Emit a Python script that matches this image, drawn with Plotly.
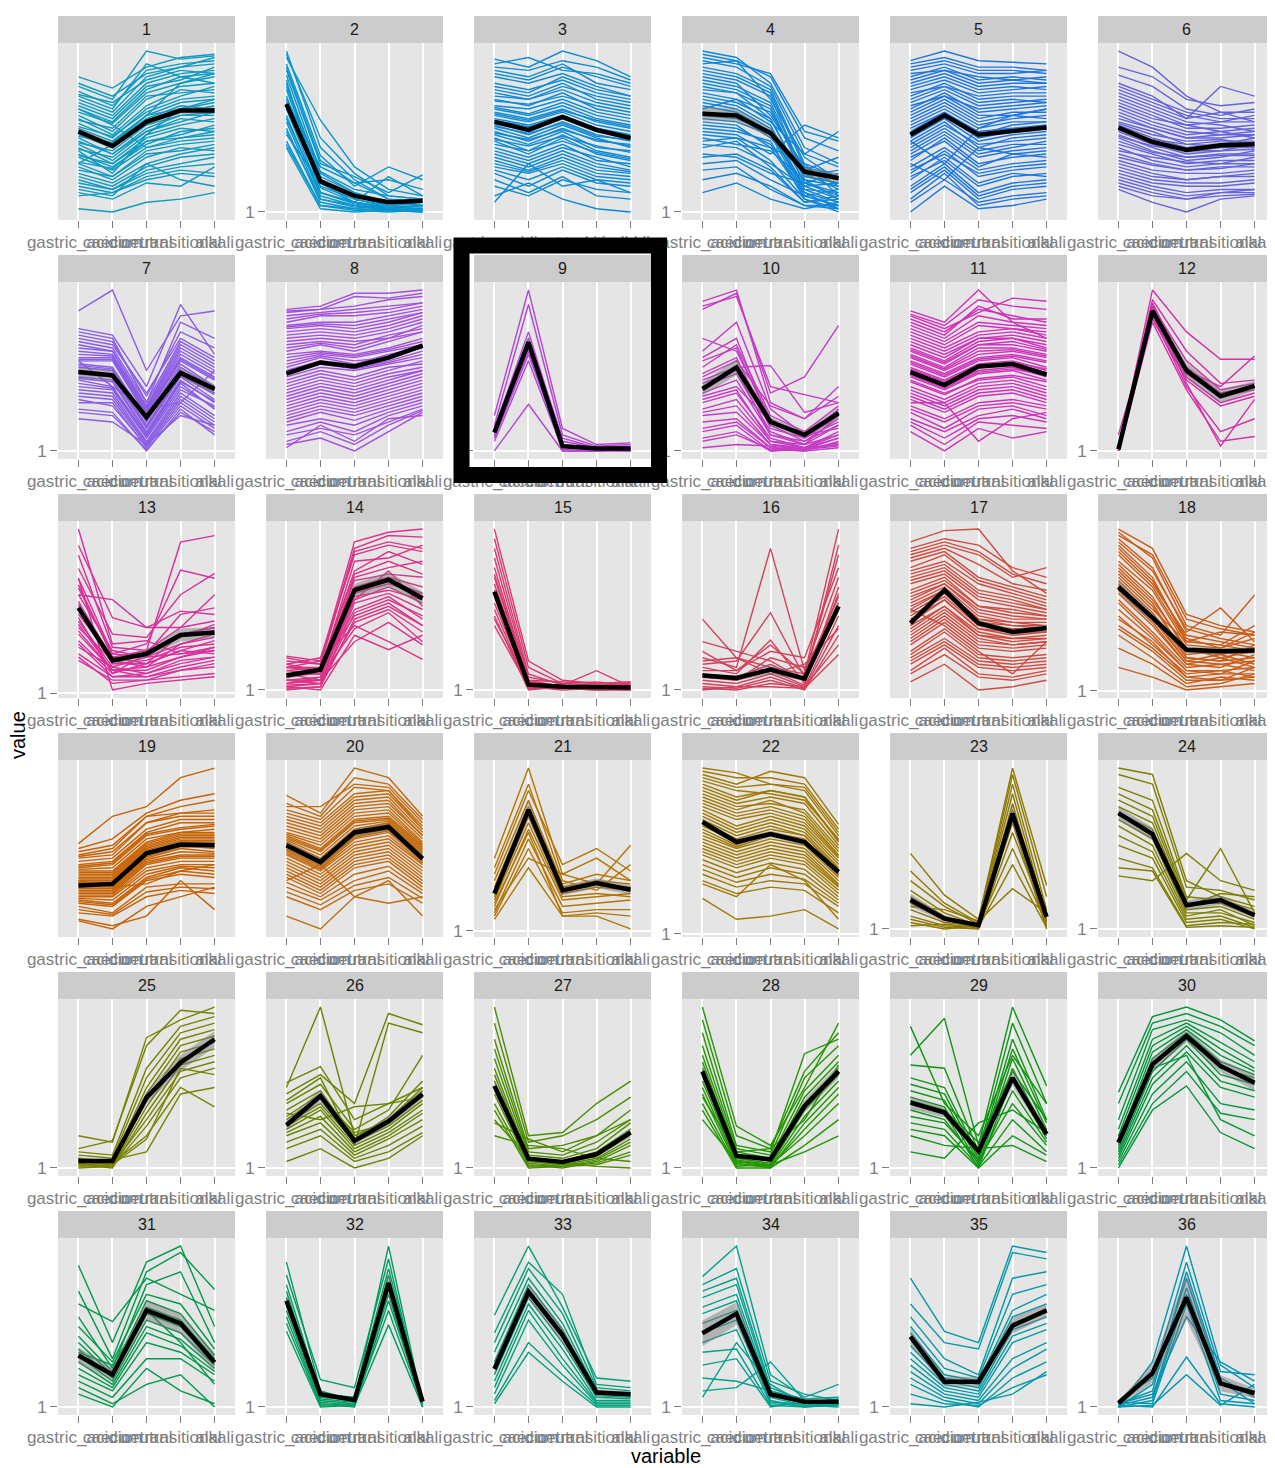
import plotly.graph_objects as go

STAGES = ["gastric_acidic", "caecum", "neutral", "transitional", "alkali"]
CLUSTERS = [str(i) for i in range(1, 37)]
COLORS = ["#0B9AC2", "#0795CF", "#0A8AD5", "#0F86D8", "#1D76E0", "#6363E0",
          "#8B5CE6", "#A54FDE", "#B544D4", "#C63BC6", "#D12FBC", "#D32FA8",
          "#D9309E", "#DB3388", "#D83A6E", "#D2425C", "#D04B3F", "#CB5D16",
          "#C86100", "#C36B0E", "#B47400", "#A27800", "#8E7800", "#7F7E00",
          "#788200", "#688400", "#4C8C00", "#229700", "#0E9512", "#00963A",
          "#00994A", "#009C60", "#00A07A", "#00A08F", "#009AA6", "#0096B4"]
# lowest observed value of each cluster (the "1" tick only shows where it is in range)
FLOOR = [20, 1, 20, 1, 20, 20, 1, 20, 1, 1, 20, 1,
         1, 1, 1, 1, 20, 1.4, 20, 20, 2.2, 4, 1, 1,
         1, 1, 1, 1, 1, 1, 1, 1, 1, 1, 1, 1]

C01 = [[84,77,90,96,98],[78,70,100,95,97],[75,66,88,92,94],[70,62,84,90,96],[68,60,80,86,88],
       [66,58,78,82,90],[62,55,74,80,84],[60,50,70,78,80],[58,48,66,76,74],[55,46,64,72,78],
       [52,44,60,68,70],[50,42,58,66,64],[48,40,56,62,66],[46,36,52,60,62],[44,36,50,58,56],
       [42,32,48,54,58],[40,30,46,52,50],[36,28,42,50,52],[34,26,40,44,46],[30,22,38,42,44],
       [28,20,34,40,38],[24,18,30,36,40],[20,14,26,30,34],[16,12,22,26,24],[14,10,30,20,16],
       [12,8,18,16,28],[2,0,6,8,12],[30,42,60,80,86],[64,54,40,46,50],
       [80,72,86,90,92],[73,68,82,88,86],[64,56,76,84,86],[57,52,72,74,76],[53,47,62,70,72],
       [47,43,60,64,68],[43,38,54,60,60],[39,34,50,56,62],[35,30,44,48,54],[31,27,44,46,48],
       [26,22,36,38,42],[22,16,28,34,36],[18,14,24,28,30],[10,12,20,24,22],[72,64,92,84,80],
       [38,24,48,64,70]]
M01 = [50,41,56,63,63]
S01 = [2,2,2,2,2]

C02 = [[100,40,20,8,6],[96,57,28,14,10],[92,35,16,28,20],[88,30,22,12,23],[85,25,14,10,8],
       [80,22,12,6,4],[76,20,10,4,6],[72,18,8,3,2],[68,15,6,2,4],[64,12,5,2,1],
       [60,10,4,1,2],[56,8,3,2,1],[52,6,2,1,0],[48,18,6,3,4],[44,4,1,0,1],
       [40,2,0,1,0],[70,28,18,20,14],[82,12,6,22,10],
       [98,46,24,10,8],[90,32,18,8,6],[78,24,12,6,4],[66,16,8,4,3],[58,12,6,3,2],
       [50,8,4,2,1],[42,4,2,1,1]]
M02 = [67,19,10,6,7]
S02 = [3,2,1.5,1,1]

C03 = [[95,90,100,94,84],[92,96,88,86,80],[88,84,92,80,76],[84,80,86,78,72],[80,76,82,74,70],
       [76,72,80,70,66],[72,70,76,68,64],[70,66,74,64,60],[66,64,70,62,58],[64,60,66,58,54],
       [62,58,64,56,52],[60,56,62,54,50],[58,54,60,52,48],[56,50,58,50,46],[54,48,56,48,44],
       [52,46,54,46,40],[50,44,52,44,42],[48,42,50,40,38],[46,38,48,38,34],[44,36,46,36,32],
       [40,34,42,32,30],[36,30,38,30,26],[32,26,34,26,24],[28,24,30,22,20],[24,16,26,18,16],
       [20,12,22,10,8],[10,18,8,2,0],[6,30,16,20,12],
       [90,88,94,90,82],[86,82,90,84,78],[78,74,84,76,72],[74,70,78,72,68],[69,67,72,66,62],
       [65,61,68,60,56],[61,57,63,57,53],[57,53,59,51,47],[53,49,55,47,45],[49,45,51,45,41],
       [45,41,47,41,37],[42,38,44,37,33],[38,32,40,34,28],[34,28,36,28,25],[30,25,32,24,22],
       [26,20,28,20,18],[16,10,20,14,12]]
M03 = [56,51,59,51,46]
S03 = [1.5,1.5,1.5,1.5,1.5]

C04 = [[100,96,80,40,30],[96,92,86,50,44],[92,94,70,34,20],[90,86,76,30,10],[86,82,72,22,26],
       [84,80,60,28,16],[80,76,66,20,8],[76,74,58,18,12],[74,70,62,26,34],[70,66,54,14,6],
       [66,62,50,12,2],[62,60,46,24,20],[58,56,48,10,4],[56,54,40,30,22],[52,50,44,8,0],
       [50,48,36,54,46],[46,42,38,20,16],[42,40,30,16,18],[40,44,28,6,10],[36,34,24,18,24],
       [30,32,20,10,14],[26,28,14,4,2],[12,18,8,2,6],[64,70,56,36,50],
       [98,94,84,46,38],[94,90,78,36,28],[88,84,74,28,22],[82,78,68,24,14],[78,74,64,22,18],
       [72,68,58,18,10],[68,64,52,16,8],[60,58,50,14,12],[54,52,42,12,6],[48,46,40,10,4],
       [44,46,32,8,2],[34,36,26,6,8],[20,24,16,4,4]]
M04 = [61,60,49,25,21]
S04 = [4,4,3,3,3]

C05 = [[94,100,94,93,92],[92,96,90,90,88],[88,92,86,86,88],[84,90,82,84,82],[80,86,78,80,80],
       [76,82,74,76,78],[72,80,70,72,72],[68,76,66,68,70],[64,74,62,64,66],[60,70,58,62,62],
       [56,66,54,58,60],[54,64,52,56,56],[50,62,50,52,54],[48,60,46,50,52],[46,58,44,48,50],
       [42,54,42,44,46],[40,52,38,42,42],[36,48,34,38,40],[32,46,30,34,36],[28,40,26,30,32],
       [24,38,22,26,28],[20,34,18,24,22],[16,30,12,18,20],[12,26,8,14,16],[8,24,4,8,10],
       [0,16,2,4,8],[30,20,40,36,38],[44,30,52,60,64],
       [90,94,88,88,86],[86,88,84,82,84],[82,88,80,82,80],[78,84,76,78,76],[74,78,72,74,74],
       [70,78,68,70,68],[66,72,64,66,68],[62,72,60,60,64],[58,68,56,60,58],[52,62,48,54,56],
       [44,56,40,46,48],[38,50,36,40,44],[34,44,28,36,34],[26,36,24,28,30],[22,32,16,22,24],
       [14,28,10,16,18],[6,20,6,10,12]]
M05 = [48,60,48,50.5,52.5]
S05 = [1.5,1.5,1.5,1.5,1.5]

C06 = [[100,90,72,62,56],[85,78,64,60,64],[80,72,58,78,72],[76,68,60,56,60],[72,64,56,54,50],
       [68,60,52,52,54],[66,58,54,50,46],[62,54,48,50,52],[58,52,46,46,48],[56,50,42,44,44],
       [54,46,40,42,46],[52,44,38,40,40],[50,42,36,38,42],[48,40,34,36,36],[46,38,32,34,38],
       [42,36,30,32,32],[40,32,28,30,34],[36,30,26,28,28],[32,26,24,24,26],[30,24,20,22,22],
       [26,20,18,18,20],[22,16,12,14,14],[18,12,8,12,12],[14,6,0,8,10],
       [90,84,70,66,68],[78,70,62,58,58],[74,66,58,62,62],[70,62,54,56,56],[64,56,50,48,50],
       [60,52,46,48,48],[55,48,44,45,42],[51,45,42,41,43],[47,41,38,38,39],[44,37,34,35,35],
       [38,34,31,30,30],[34,29,26,27,30],[28,22,20,22,24],[24,18,16,16,18],[20,14,10,12,14],
       [16,10,8,10,11]]
M06 = [52.5,43.5,38.5,41.5,42]
S06 = [2,2,2,2,2]

C07 = [[87,100,50,84,87],[76,72,40,91,60],[74,70,30,80,70],[70,66,36,70,58],[66,62,28,66,54],
       [62,60,26,62,50],[58,58,24,58,46],[56,56,22,56,44],[54,52,20,54,40],[52,50,18,50,38],
       [50,48,16,48,36],[48,46,14,46,32],[46,44,12,44,30],[44,40,10,42,26],[40,38,8,38,28],
       [38,36,6,36,22],[34,32,4,32,18],[30,30,2,28,14],[26,24,0,26,10],[20,18,4,22,16],
       [56,40,26,30,50],
       [72,68,34,74,64],[68,64,30,68,56],[64,62,27,64,52],[60,59,25,60,48],[57,57,23,57,45],
       [53,51,19,52,39],[49,47,15,47,35],[45,43,11,43,31],[42,39,9,40,27],[36,34,5,34,20],
       [32,28,3,30,16],[24,22,1,24,12]]
M07 = [49,47,21,48.5,38.5]
S07 = [3,3,3,3,3]

C08 = [[88,90,98,98,100],[86,88,90,94,96],[84,86,88,90,92],[80,84,84,86,90],[78,80,80,84,88],
       [76,78,76,80,86],[72,74,72,76,82],[70,72,70,74,80],[66,68,66,72,76],[62,66,62,68,74],
       [60,62,60,64,70],[56,60,58,62,66],[52,58,54,60,64],[50,56,52,56,62],[46,52,50,54,58],
       [44,50,46,52,54],[40,46,42,48,52],[36,42,38,44,50],[32,38,34,40,46],[28,34,30,36,42],
       [24,30,26,32,38],[20,26,22,28,34],[16,20,16,24,30],[10,14,10,18,26],[4,8,0,12,24],
       [2,16,6,20,22],
       [87,88,96,95,98],[82,85,86,88,92],[77,79,78,82,86],[74,76,74,78,84],[68,70,68,70,78],
       [64,67,64,70,74],[58,61,59,63,68],[54,59,56,58,66],[48,54,51,55,60],[42,48,44,50,56],
       [38,44,40,46,50],[34,40,36,42,48],[30,36,32,38,44],[26,32,28,34,40],[22,28,24,30,36],
       [18,24,19,26,32],[12,18,12,22,28],[6,12,4,16,25]]
M08 = [48,55,52.5,58,65.5]
S08 = [1.5,1.5,1.5,1.5,1.5]

C09 = [[22,100,14,4,5],[16,91,10,3,4],[14,74,6,2,2],[12,66,4,1,1],[10,62,2,1,0],
       [8,60,3,2,1],[6,56,1,0,1],[9,64,0,0,0],[0,29,0,0,2],[11,70,8,2,3]]
M09 = [11.5,67.5,3,1.5,1.5]
S09 = [2,4,1,0.5,0.5]

C10 = [[93,100,30,20,40],[90,96,40,35,30],[88,98,36,46,78],[70,62,20,8,26],[62,80,26,10,24],
       [58,70,16,6,20],[52,66,22,12,28],[48,58,14,8,18],[44,52,53,24,30],[40,48,12,4,22],
       [36,44,10,6,16],[34,40,18,10,14],[30,36,8,2,12],[26,32,6,4,10],[22,24,4,1,8],
       [18,20,2,0,6],[12,16,0,2,4],[6,10,1,0,2],[2,4,3,1,5],[46,56,28,20,34],
       [56,64,18,8,22],[42,50,10,4,16],[32,38,6,2,10],[24,28,4,2,8],[14,18,2,1,4],
       [8,12,0,1,3]]
M10 = [38.5,52,18,10,23.5]
S10 = [4,5,3,2,3]

C11 = [[87,80,100,80,70],[84,76,86,95,93],[80,72,90,82,82],[76,68,80,78,76],[72,64,74,76,72],
       [68,60,70,72,68],[64,56,68,70,64],[62,54,66,66,62],[60,52,64,64,60],[58,50,60,62,58],
       [56,48,58,60,56],[54,46,56,58,52],[52,44,54,56,50],[50,42,52,54,48],[48,40,50,52,46],
       [46,38,48,50,44],[44,36,44,46,40],[40,32,42,44,38],[36,28,38,40,34],[32,24,34,36,30],
       [28,20,30,32,28],[24,14,26,28,22],[18,8,20,22,18],[12,0,14,8,12],[30,30,6,20,24],
       [85,78,94,90,88],[82,74,88,84,80],[78,70,84,80,78],[74,66,78,76,74],[70,62,72,74,70],
       [66,58,70,70,66],[63,55,66,68,63],[59,51,62,63,59],[55,47,57,59,55],[51,43,53,55,51],
       [47,39,49,51,47],[43,35,45,47,43],[38,30,40,42,36],[34,26,36,38,32],[26,18,28,30,26],
       [20,12,22,26,20],[16,4,18,16,14]]
M11 = [49,41,52.5,54,47.5]
S11 = [1.5,1.5,1.5,1.5,1.5]

C12 = [[0,100,74,57,57],[1,94,62,42,44],[2,90,56,38,42],[0,88,52,36,40],[1,86,48,34,38],
       [0,84,46,30,36],[10,82,44,28,34],[0,90,42,3,32],[1,84,40,12,20],[0,80,38,6,9],
       [0,92,50,40,59]]
M12 = [1,87,50,34,40.5]
S12 = [1,3,5,4,3]

C13 = [[100,30,32,24,26],[90,46,40,40,44],[84,28,26,92,96],[76,36,34,60,73],[70,24,30,75,70],
       [66,22,26,40,60],[60,26,22,30,36],[56,20,24,34,42],[52,18,20,28,30],[48,22,18,36,40],
       [44,16,22,24,28],[40,20,16,30,34],[36,14,14,22,26],[32,12,18,26,24],[28,16,12,18,22],
       [24,10,10,14,18],[20,8,8,10,12],[60,57,40,50,48],[70,2,6,8,10],[46,12,24,48,52],
       [64,24,22,36,40],[54,18,18,26,32],[42,14,16,22,28],[30,10,12,20,22],[22,6,8,14,16],
       [38,14,10,16,20]]
M13 = [52,20,24,35.5,37]
S13 = [4,2,2,4,3]

C14 = [[21,18,92,98,100],[18,16,88,96,95],[16,20,84,90,86],[14,12,80,82,90],[12,14,74,86,78],
       [10,10,70,76,80],[8,12,68,72,70],[6,8,64,70,64],[4,6,60,66,60],[2,4,58,62,56],
       [0,2,54,60,50],[12,10,50,58,44],[8,14,46,54,40],[6,4,42,50,36],[4,8,38,48,30],
       [10,6,30,42,28],[2,0,34,25,34],[14,18,40,30,19],[16,12,56,74,52],
       [20,16,86,92,88],[14,14,72,80,72],[9,10,62,68,60],[6,6,56,64,54],[3,4,48,56,46],
       [1,2,44,52,40]]
M14 = [9,12.6,62,68.5,57]
S14 = [2,2,4,5,4]

C15 = [[100,18,6,4,5],[94,14,4,3,4],[88,10,3,2,2],[82,8,4,5,3],[76,6,2,1,1],
       [70,5,2,3,2],[66,4,1,2,4],[62,3,2,1,0],[58,2,1,0,1],[54,2,0,1,2],
       [50,1,1,0,0],[46,0,2,1,1],[44,4,3,12,2],[40,2,1,1,3],[72,6,5,4,5]]
M15 = [61,3.3,2,2,1.5]
S15 = [4,0.5,0.5,0.5,0.5]

C16 = [[44,20,14,10,100],[30,24,18,6,90],[20,14,88,12,70],[16,18,48,8,84],[14,10,31,4,60],
       [12,12,24,20,76],[10,8,16,6,54],[8,6,12,3,64],[6,4,10,2,46],[4,2,8,1,40],
       [2,1,6,0,34],[1,0,4,2,28],[0,2,2,1,22],[10,6,20,14,50],[24,12,28,10,58],
       [18,20,10,16,38]]
M16 = [9,7.5,12.6,7,52]
S16 = [1.5,1.5,3,1.5,4]

C17 = [[92,99,100,74,60],[88,94,90,76,70],[84,90,84,70,76],[80,86,70,64,58],[74,80,66,60,54],
       [70,76,60,56,50],[66,72,56,52,48],[62,70,52,48,46],[58,66,50,46,44],[54,64,46,42,42],
       [50,62,44,40,40],[46,58,40,38,38],[42,56,38,34,36],[40,52,36,32,34],[36,50,34,30,32],
       [32,46,30,28,30],[28,42,26,24,26],[24,38,22,20,22],[20,32,18,16,18],[16,28,14,12,14],
       [10,22,8,6,10],[5,16,0,2,6],[50,40,24,10,30],
       [86,92,86,72,66],[82,88,78,66,62],[76,84,68,62,56],[72,78,62,58,52],[68,74,58,54,50],
       [60,68,52,50,46],[56,66,48,44,44],[52,62,44,42,40],[48,60,42,40,38],[44,56,38,36,36],
       [38,52,34,32,32],[34,48,32,28,30],[30,44,28,26,28],[22,36,20,18,20],[18,30,16,14,16],
       [12,26,10,8,12]]
M17 = [41.5,62,41.5,36,38.5]
S17 = [2,2.5,2,2,2]

C18 = [[100,88,47,40,36],[98,82,40,34,59],[94,76,36,51,30],[90,70,30,28,40],[86,66,34,30,26],
       [80,62,28,26,32],[76,56,26,20,24],[72,52,22,24,20],[68,48,20,18,28],[64,44,18,22,16],
       [60,40,16,14,22],[56,36,14,16,12],[50,32,12,10,18],[46,28,10,12,8],[40,26,8,6,14],
       [34,20,4,8,6],[26,16,2,4,10],[14,8,0,2,4],[70,50,30,36,34],
       [96,84,44,38,34],[92,74,38,32,28],[88,68,32,26,36],[84,64,30,28,24],[78,58,24,22,26],
       [74,54,20,18,20],[66,46,18,16,18],[62,42,16,20,14],[54,34,12,12,14],[44,30,8,10,10],
       [38,24,6,6,8]]
M18 = [64,45,25,24,24.5]
S18 = [4,3,2,2,2]

C19 = [[53,70,76,94,100],[50,56,72,80,84],[46,50,70,72,74],[44,46,66,70,70],[40,42,60,66,66],
       [38,40,58,62,64],[36,36,54,60,60],[34,34,52,58,58],[32,32,50,56,56],[30,30,48,54,54],
       [28,28,46,52,50],[26,26,44,50,48],[24,24,42,46,46],[22,22,40,44,44],[20,20,36,40,40],
       [18,16,32,38,36],[16,14,30,34,32],[14,10,26,28,28],[10,8,20,24,22],[6,2,8,30,12],
       [5,0,14,20,26],[30,26,28,36,40],
       [48,52,70,76,80],[45,48,66,72,72],[42,44,62,68,68],[39,41,59,63,65],[37,38,56,60,62],
       [35,35,53,59,59],[33,33,51,57,57],[31,31,49,55,55],[29,29,47,53,53],[27,27,45,51,51],
       [25,25,43,48,47],[23,23,41,45,45],[21,21,38,42,42],[19,18,34,39,38],[17,15,31,36,34],
       [12,9,23,26,25]]
M19 = [27,28,47,52.5,52]
S19 = [1.5,1.5,2,2,2]

C20 = [[83,72,100,94,70],[76,76,90,88,66],[72,66,84,86,62],[68,62,80,82,60],[64,58,76,78,58],
       [60,54,72,74,54],[58,50,68,70,52],[56,48,66,68,50],[54,44,62,66,48],[52,42,60,64,46],
       [50,40,58,62,44],[48,38,56,60,42],[46,36,52,56,40],[44,34,50,54,38],[40,30,46,50,34],
       [36,26,42,46,30],[32,22,38,42,26],[26,18,30,36,22],[20,12,24,28,16],[8,0,20,30,8],
       [30,40,20,16,20],
       [78,70,94,90,68],[74,68,88,86,64],[70,64,82,84,62],[66,60,78,80,58],[62,56,74,76,56],
       [59,52,70,72,53],[57,49,67,69,51],[55,46,64,67,49],[53,43,61,65,47],[51,41,59,63,45],
       [49,39,57,61,43],[47,37,54,58,41],[42,32,48,52,36],[38,28,44,48,32],[34,24,40,44,28],
       [29,20,34,39,24],[23,15,27,32,19]]
M20 = [52,41.6,60,63.4,43.7]
S20 = [2.5,2.5,2.5,2.5,2.5]

C21 = [[44,100,34,28,52],[38,90,30,24,40],[34,86,40,50,36],[30,80,28,34,30],[26,76,26,30,28],
       [22,72,24,28,26],[20,70,22,26,24],[18,66,20,22,20],[14,62,18,20,22],[10,56,14,16,18],
       [8,50,10,12,12],[6,38,8,8,0],[12,44,34,44,30],[16,60,8,10,8]]
M21 = [22,74,24,28.5,24.4]
S21 = [4,6,3,3,3]

C22 = [[100,97,90,88,60],[96,90,98,94,65],[92,86,84,80,56],[88,80,86,82,54],[84,76,78,74,50],
       [80,72,76,70,46],[76,68,72,66,44],[72,62,68,62,40],[70,60,66,60,38],[66,56,62,58,36],
       [62,52,60,56,34],[58,50,56,52,32],[54,46,52,48,28],[50,42,48,44,26],[46,38,44,40,22],
       [40,32,38,34,18],[34,26,30,28,14],[19,6,8,12,0],[28,20,40,30,6],
       [98,94,94,90,62],[94,88,90,86,58],[90,82,86,82,55],[86,78,82,78,52],[82,74,80,72,48],
       [78,70,74,68,45],[74,64,70,64,42],[68,58,64,58,37],[64,54,60,54,35],[60,51,58,54,33],
       [56,48,54,50,30],[52,44,50,46,27],[48,40,46,42,24],[43,35,41,37,20],[37,29,34,31,16],
       [30,22,26,24,10]]
M22 = [66.5,54,59,54,35.4]
S22 = [2,2,2,2,2]

C23 = [[47,21,6,100,27],[36,16,4,96,20],[30,14,3,90,12],[24,10,2,84,8],[20,8,1,78,6],
       [16,6,0,74,4],[12,4,2,70,2],[8,2,1,66,0],[6,1,0,60,5],[4,0,2,50,3],
       [2,3,1,40,1],[14,12,5,25,10]]
M23 = [18,6.4,2.3,71.6,7.5]
S23 = [4,2,1,6,2]

C24 = [[100,96,30,20,14],[96,90,26,24,18],[88,80,20,18,12],[84,74,18,50,10],[80,70,16,16,8],
       [76,66,14,22,20],[72,62,12,14,6],[68,56,10,10,4],[64,52,8,12,2],[58,48,6,8,1],
       [52,44,4,6,0],[44,38,2,4,3],[38,36,1,2,1],[33,30,47,30,24]]
M24 = [72,59,14.7,18,8.5]
S24 = [4,4,3,3,2]

C25 = [[20,16,81,92,100],[12,17,76,98,96],[10,8,62,88,94],[8,6,56,84,90],[6,4,50,80,86],
       [5,3,46,76,82],[4,2,42,72,78],[3,1,38,68,74],[2,0,34,64,70],[1,2,30,60,66],
       [0,1,26,56,62],[2,3,20,50,38],[4,5,10,46,50],[6,2,18,62,58]]
M25 = [4.3,4.3,43.7,65.4,80]
S25 = [1.5,1,4,5,5]

C26 = [[53,63,30,40,50],[50,100,20,30,48],[46,58,40,96,89],[42,56,14,90,84],[40,52,24,36,70],
       [36,48,18,32,54],[32,46,20,30,50],[30,44,22,28,46],[28,40,16,26,42],[26,38,14,24,40],
       [24,36,12,22,36],[22,32,10,20,34],[20,28,8,18,30],[16,24,6,14,26],[12,20,4,10,22],
       [4,12,0,6,20],[34,30,38,40,44]]
M26 = [26.5,44.7,16.8,29,45.8]
S26 = [3,4,2,3,3]

C27 = [[100,20,22,40,54],[90,16,20,30,44],[80,12,14,20,36],[74,10,8,16,30],[68,8,6,12,28],
       [62,6,4,10,24],[58,5,3,8,22],[54,4,2,6,18],[50,3,1,5,16],[46,2,0,4,14],
       [40,1,2,3,10],[36,0,1,2,8],[28,18,10,20,30],[20,14,12,6,4],[30,6,3,1,0]]
M27 = [51,5.8,3.7,8.5,22]
S27 = [4,1,1,1.5,3]

C28 = [[100,26,14,50,90],[92,20,12,60,84],[84,14,10,71,80],[76,12,8,56,76],[70,10,6,48,70],
       [66,8,4,44,66],[62,6,3,40,62],[58,5,2,36,58],[54,4,1,32,54],[50,3,0,28,50],
       [46,2,1,24,46],[40,1,2,20,40],[36,0,0,14,30],[30,4,2,10,20],[44,10,12,30,64]]
M28 = [60,7.5,5.4,38.5,60]
S28 = [5,1.5,1,4,4]

C29 = [[88,40,20,70,40],[70,93,14,100,51],[64,62,10,90,40],[56,50,8,80,30],[52,46,6,74,28],
       [48,42,4,68,24],[44,38,2,62,20],[40,34,0,56,18],[36,30,3,48,16],[32,28,5,40,14],
       [28,24,1,30,10],[24,20,0,20,8],[20,14,12,14,4],[10,6,28,36,22],[42,36,16,60,30]]
M29 = [40.6,34.4,10.6,56,21]
S29 = [4,3,2,5,3]

C30 = [[47,94,100,92,79],[40,90,96,88,76],[30,86,92,84,70],[24,80,90,78,66],[20,76,88,74,62],
       [16,72,86,70,60],[14,68,84,66,58],[12,64,82,62,56],[10,60,80,58,52],[8,56,76,54,48],
       [6,52,72,50,44],[4,46,66,40,36],[2,40,60,34,30],[0,36,51,22,12],[18,62,70,30,20]]
M30 = [15.7,64.4,82,63.4,53]
S30 = [4,4,4,4,5]

C31 = [[88,40,90,100,50],[72,30,84,96,73],[64,53,80,70,60],[56,24,76,84,40],[50,28,70,64,36],
       [44,22,66,58,32],[40,20,62,54,30],[36,18,58,50,28],[32,16,54,46,26],[28,14,50,42,24],
       [24,12,46,38,22],[20,10,40,34,20],[16,6,30,30,16],[12,2,14,20,0],[8,0,24,10,2],
       [34,26,60,40,14]]
M31 = [32,20,60,52,27.7]
S31 = [5,4,6,6,6]

C32 = [[90,10,4,100,2],[82,17,12,92,1],[76,8,6,86,3],[72,6,4,82,0],[68,5,3,78,2],
       [64,4,2,74,1],[60,3,1,70,0],[56,2,0,66,2],[52,1,2,60,1],[47,0,1,51,0]]
M32 = [66,7.9,4.3,77,3.3]
S32 = [5,1.5,1,6,1]

C33 = [[57,100,62,18,16],[46,90,70,14,12],[40,86,58,12,10],[34,80,52,10,8],[28,76,48,8,7],
       [24,72,44,7,6],[20,68,40,6,5],[16,64,36,4,4],[12,60,30,3,3],[8,54,26,2,2],
       [4,40,20,1,1],[2,34,16,0,0]]
M33 = [23.6,71.6,44.7,9,7.9]
S33 = [4,5,5,2,1.5]

C34 = [[81,100,20,6,14],[76,86,16,8,4],[72,80,12,4,3],[68,76,10,3,2],[62,70,8,2,1],
       [58,66,6,1,0],[52,60,4,0,2],[46,54,3,2,4],[40,48,2,1,3],[34,36,1,0,1],
       [26,30,0,3,5],[18,16,10,5,6],[10,12,28,4,2],[6,40,14,2,1]]
M34 = [45.8,58,7.9,3.3,3.3]
S34 = [8,7,2,1,1]

C35 = [[80,47,40,100,96],[64,40,36,96,92],[56,30,20,80,84],[50,24,18,70,76],[46,20,16,60,70],
       [42,18,14,56,64],[38,16,12,52,60],[34,14,10,48,56],[30,12,8,44,52],[26,10,6,40,48],
       [22,8,4,30,40],[18,6,2,24,36],[14,4,0,18,28],[8,2,1,12,20],[2,0,3,8,22]]
M35 = [43.7,15.7,15.7,50.5,60]
S35 = [5,3,3,5,4]

C36 = [[0,28,100,26,12],[4,18,90,22,20],[2,10,84,18,6],[1,6,74,14,10],[0,4,70,8,4],
       [3,2,64,4,2],[1,0,31,2,0],[0,1,20,1,14],[2,8,56,28,16],[0,14,80,16,2]]
M36 = [2.3,21,68,14.7,8.5]
S36 = [1.5,6,14,5,3]

MEMBERS = [C01, C02, C03, C04, C05, C06, C07, C08, C09, C10, C11, C12,
           C13, C14, C15, C16, C17, C18, C19, C20, C21, C22, C23, C24,
           C25, C26, C27, C28, C29, C30, C31, C32, C33, C34, C35, C36]
MEANS = [M01, M02, M03, M04, M05, M06, M07, M08, M09, M10, M11, M12,
         M13, M14, M15, M16, M17, M18, M19, M20, M21, M22, M23, M24,
         M25, M26, M27, M28, M29, M30, M31, M32, M33, M34, M35, M36]
SES = [S01, S02, S03, S04, S05, S06, S07, S08, S09, S10, S11, S12,
       S13, S14, S15, S16, S17, S18, S19, S20, S21, S22, S23, S24,
       S25, S26, S27, S28, S29, S30, S31, S32, S33, S34, S35, S36]

W, H = 1275, 1468
OFF = 8  # the page body adds an 8px margin around the figure
PW, PH = 177, 177
FONT = "Liberation Sans, Arial, Helvetica, sans-serif"
GREY = "#7F7F7F"


def px(x):
    return (x - OFF) / W


def py(y):
    return (H - (y - OFF)) / H


fig = go.Figure()
layout = dict(
    template="none",
    width=W, height=H, margin=dict(l=0, r=0, t=0, b=0, pad=0, autoexpand=False),
    paper_bgcolor="white", plot_bgcolor="#E5E5E5",
    showlegend=False, font=dict(family=FONT),
)
shapes = []
annotations = []
xs = list(range(len(STAGES)))

for i in range(36):
    r, c = divmod(i, 6)
    left = 58 + 208 * c
    top = 43 + 239 * r
    sfx = "" if i == 0 else str(i + 1)
    xa, ya = "x" + sfx, "y" + sfx
    base = FLOOR[i]

    mx, my = [], []
    allv = []
    for row in MEMBERS[i]:
        vals = [base + v for v in row]
        mx += xs + [None]
        my += vals + [None]
        allv += vals
    mean = [base + v for v in MEANS[i]]
    lo = [m - s for m, s in zip(mean, SES[i])]
    hi = [m + s for m, s in zip(mean, SES[i])]
    allv += lo + hi

    fig.add_trace(go.Scatter(x=mx, y=my, mode="lines", xaxis=xa, yaxis=ya,
                             line=dict(color=COLORS[i], width=1.4), hoverinfo="skip"))
    fig.add_trace(go.Scatter(x=xs + xs[::-1], y=hi + lo[::-1], mode="lines", fill="toself",
                             fillcolor="rgba(115,115,115,0.45)", line=dict(width=0),
                             xaxis=xa, yaxis=ya, hoverinfo="skip"))
    fig.add_trace(go.Scatter(x=xs, y=mean, mode="lines", xaxis=xa, yaxis=ya,
                             line=dict(color="black", width=4.5), hoverinfo="skip"))

    vmin, vmax = min(allv), max(allv)
    span = vmax - vmin
    layout["xaxis" + sfx] = dict(
        domain=[px(left), px(left + PW)], anchor=ya, range=[-0.6, len(STAGES) - 0.4],
        automargin=False,
        tickmode="array", tickvals=xs, ticktext=STAGES, tickangle=0,
        showgrid=True, gridcolor="white", gridwidth=1.5, zeroline=False, showline=False,
        ticks="outside", ticklen=7, tickwidth=1, tickcolor=GREY,
        tickfont=dict(size=17, color=GREY, family=FONT), fixedrange=True)
    layout["yaxis" + sfx] = dict(
        domain=[py(top + PH), py(top)], anchor=xa,
        range=[vmin - 0.05 * span, vmax + 0.05 * span], automargin=False,
        tickmode="array", tickvals=[1], ticktext=["1"],
        showgrid=True, gridcolor="white", gridwidth=1.5, zeroline=False, showline=False,
        ticks="outside", ticklen=7, tickwidth=1, tickcolor=GREY,
        tickfont=dict(size=17, color=GREY, family=FONT), fixedrange=True)

    shapes.append(dict(type="rect", xref="paper", yref="paper",
                       x0=px(left), x1=px(left + PW), y0=py(top), y1=py(top - 27),
                       fillcolor="#CCCCCC", line=dict(width=0), layer="below"))
    annotations.append(dict(text=CLUSTERS[i], xref="paper", yref="paper",
                            x=px(left + PW / 2), y=py(top - 13.5),
                            showarrow=False, xanchor="center", yanchor="middle",
                            font=dict(size=16, color="#1A1A1A", family=FONT)))

# highlight box around cluster 9
shapes.append(dict(type="rect", xref="paper", yref="paper",
                   x0=px(461.5), x1=px(659), y0=py(475), y1=py(245.5),
                   line=dict(color="black", width=16), fillcolor="rgba(0,0,0,0)", layer="above"))

annotations.append(dict(text="value", xref="paper", yref="paper", x=px(18), y=py(735),
                        textangle=-90, showarrow=False, xanchor="center", yanchor="middle",
                        font=dict(size=20, color="black", family=FONT)))
annotations.append(dict(text="variable", xref="paper", yref="paper", x=px(666), y=py(1456),
                        showarrow=False, xanchor="center", yanchor="middle",
                        font=dict(size=20, color="black", family=FONT)))

layout["shapes"] = shapes
layout["annotations"] = annotations
fig.update_layout(**layout)
fig.write_html("out.html")
